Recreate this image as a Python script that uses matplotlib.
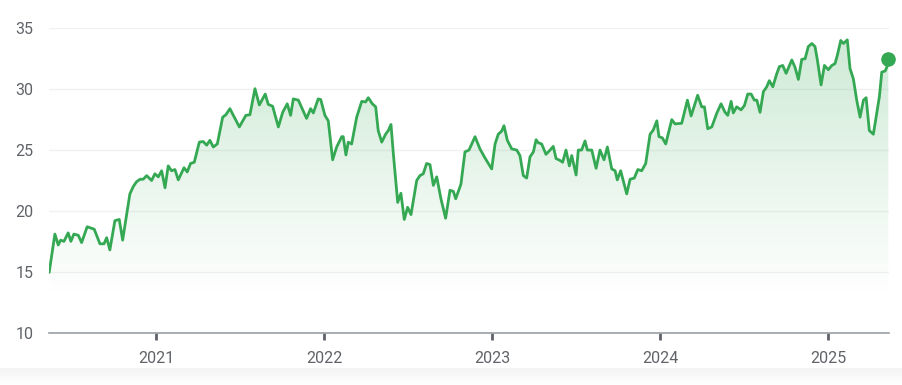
import numpy as np
import matplotlib
matplotlib.use("Agg")
import matplotlib.pyplot as plt
from matplotlib.patches import Polygon
from matplotlib.colors import LinearSegmentedColormap

# ---- data (decimal year, price) ----
dates = [
    2020.365, 2020.399, 2020.419, 2020.433, 2020.453, 2020.478, 2020.494, 2020.512, 2020.538, 2020.558,
    2020.591, 2020.633, 2020.667, 2020.691, 2020.707, 2020.726, 2020.756, 2020.782, 2020.802, 2020.845,
    2020.865, 2020.885, 2020.905, 2020.924, 2020.945, 2020.974, 2020.994, 2021.014, 2021.034, 2021.054,
    2021.073, 2021.093, 2021.113, 2021.133, 2021.167, 2021.186, 2021.206, 2021.228, 2021.258, 2021.281,
    2021.302, 2021.321, 2021.341, 2021.365, 2021.397, 2021.416, 2021.440, 2021.470, 2021.496, 2021.535,
    2021.559, 2021.589, 2021.615, 2021.650, 2021.668, 2021.694, 2021.728, 2021.754, 2021.781, 2021.801,
    2021.817, 2021.847, 2021.896, 2021.920, 2021.936, 2021.965, 2021.980, 2022.005, 2022.025, 2022.051,
    2022.075, 2022.105, 2022.114, 2022.130, 2022.144, 2022.164, 2022.194, 2022.224, 2022.247, 2022.263,
    2022.287, 2022.307, 2022.322, 2022.343, 2022.366, 2022.382, 2022.398, 2022.412, 2022.438, 2022.457,
    2022.477, 2022.497, 2022.517, 2022.551, 2022.570, 2022.590, 2022.610, 2022.630, 2022.650, 2022.670,
    2022.695, 2022.723, 2022.749, 2022.769, 2022.783, 2022.814, 2022.838, 2022.862, 2022.898, 2022.927,
    2022.955, 2022.997, 2023.017, 2023.036, 2023.056, 2023.070, 2023.090, 2023.116, 2023.146, 2023.165,
    2023.185, 2023.205, 2023.225, 2023.245, 2023.261, 2023.274, 2023.294, 2023.320, 2023.344, 2023.363,
    2023.380, 2023.403, 2023.419, 2023.439, 2023.459, 2023.473, 2023.499, 2023.512, 2023.532, 2023.552,
    2023.566, 2023.592, 2023.618, 2023.641, 2023.665, 2023.685, 2023.711, 2023.731, 2023.744, 2023.764,
    2023.800, 2023.820, 2023.845, 2023.866, 2023.889, 2023.913, 2023.939, 2023.958, 2023.979, 2023.992,
    2024.012, 2024.032, 2024.068, 2024.087, 2024.127, 2024.161, 2024.183, 2024.222, 2024.246, 2024.262,
    2024.282, 2024.306, 2024.335, 2024.361, 2024.385, 2024.401, 2024.421, 2024.434, 2024.454, 2024.480,
    2024.500, 2024.520, 2024.540, 2024.559, 2024.574, 2024.593, 2024.613, 2024.633, 2024.648, 2024.669,
    2024.692, 2024.708, 2024.728, 2024.748, 2024.782, 2024.801, 2024.821, 2024.841, 2024.861, 2024.880,
    2024.901, 2024.920, 2024.934, 2024.956, 2024.976, 2024.999, 2025.020, 2025.039, 2025.053, 2025.073,
    2025.089, 2025.112, 2025.128, 2025.148, 2025.168, 2025.188, 2025.208, 2025.224, 2025.243, 2025.267,
    2025.287, 2025.303, 2025.317, 2025.337, 2025.347, 2025.356,
]
prices = [
    14.95, 18.1, 17.2, 17.6, 17.5, 18.2, 17.5, 18.1, 18.0, 17.4,
    18.7, 18.5, 17.3, 17.3, 17.8, 16.8, 19.2, 19.3, 17.6, 21.4,
    22.0, 22.4, 22.6, 22.6, 22.9, 22.5, 23.05, 22.8, 23.3, 21.9,
    23.7, 23.3, 23.4, 22.55, 23.55, 23.2, 23.9, 24.0, 25.65, 25.7,
    25.4, 25.8, 25.25, 25.5, 27.7, 27.9, 28.4, 27.6, 26.9, 27.85,
    27.9, 30.04, 28.7, 29.6, 28.75, 28.6, 26.9, 28.1, 28.8, 27.85,
    29.2, 29.1, 27.6, 28.4, 28.05, 29.2, 29.15, 27.85, 27.4, 24.2,
    25.25, 26.1, 26.1, 24.6, 25.65, 25.5, 27.7, 29.0, 28.95, 29.3,
    28.8, 28.55, 26.6, 25.65, 26.3, 26.6, 27.1, 24.7, 20.7, 21.45,
    19.3, 20.3, 19.7, 22.5, 22.9, 23.05, 23.9, 23.8, 22.1, 22.8,
    21.0, 19.4, 21.7, 21.6, 21.0, 22.2, 24.85, 25.0, 26.1, 25.1,
    24.4, 23.45, 25.5, 26.3, 26.55, 27.0, 25.8, 25.1, 25.0, 24.55,
    22.9, 22.7, 24.45, 24.85, 25.85, 25.6, 25.5, 24.65, 25.0, 25.3,
    24.3, 24.15, 24.0, 25.0, 23.7, 24.55, 22.95, 25.0, 25.0, 25.75,
    25.0, 25.0, 23.5, 25.0, 24.2, 25.25, 23.45, 23.3, 22.55, 23.3,
    21.4, 22.6, 22.7, 23.4, 23.3, 23.9, 26.3, 26.65, 27.4, 26.1,
    26.0, 25.5, 27.5, 27.15, 27.2, 29.1, 27.8, 29.5, 28.55, 28.55,
    26.75, 26.9, 28.0, 28.8, 28.1, 27.85, 29.0, 28.05, 28.55, 28.3,
    28.65, 29.6, 29.6, 29.1, 29.1, 28.1, 29.8, 30.2, 30.7, 30.2,
    31.25, 31.85, 31.95, 31.3, 32.4, 31.8, 30.8, 32.45, 32.5, 33.5,
    33.75, 33.5, 32.4, 30.35, 31.95, 31.6, 31.95, 32.1, 32.8, 34.0,
    33.75, 34.05, 31.7, 30.85, 29.1, 27.7, 29.1, 29.3, 26.6, 26.3,
    28.0, 29.4, 31.4, 31.5, 31.8, 32.5,
]
year_ticks = [2021, 2022, 2023, 2024, 2025]
year_labels = ["2021", "2022", "2023", "2024", "2025"]
y_ticks = [10, 15, 20, 25, 30, 35]
y_labels = ["10", "15", "20", "25", "30", "35"]

GREEN = "#34a853"
GREY_TXT = "#5f6368"

plt.rcParams["font.family"] = ["Roboto", "DejaVu Sans"]

W, H = 903, 385
fig = plt.figure(figsize=(W / 100, H / 100), dpi=100)
fig.patch.set_facecolor("white")

# light grey strip (soft gradient) at the bottom of the page
bg = fig.add_axes([0, 0, 1, 17 / H], zorder=-5)
bg.imshow(np.linspace(1, 0, 64).reshape(-1, 1), origin="upper", aspect="auto",
          cmap=LinearSegmentedColormap.from_list("bgs", ["#ffffff", "#f4f4f5"]),
          extent=[0, 1, 0, 1], vmin=0, vmax=1)
bg.set_axis_off()

ax = fig.add_axes([49 / W, (H - 332.7) / H, (889 - 49) / W, (332.7 - 28.3) / H])
ax.set_xlim(2020.364, 2025.36)
ax.set_ylim(10, 35)
ax.patch.set_alpha(0)

x = np.array(dates)
y = np.array(prices)

# gradient fill under the line
cmap = LinearSegmentedColormap.from_list(
    "g", [(0.0, (0.204, 0.659, 0.325, 0.0)), (1.0, (0.204, 0.659, 0.325, 0.24))])
grad = np.linspace(0, 1, 256).reshape(-1, 1)
grad = np.clip((grad - 0.12) / 0.88, 0, 1)
img = ax.imshow(grad, extent=[x.min(), x.max(), 10, 34.2], origin="lower",
                aspect="auto", cmap=cmap, vmin=0, vmax=1, zorder=1)
verts = np.vstack([np.column_stack([x, y]), [[x[-1], 10], [x[0], 10]]])
poly = Polygon(verts, closed=True, facecolor="none", edgecolor="none")
ax.add_patch(poly)
img.set_clip_path(poly)

ax.plot(x, y, color=GREEN, lw=2.0, solid_joinstyle="round", solid_capstyle="round", zorder=3)
ax.plot([x[-1]], [y[-1]], "o", color=GREEN, ms=9.5, zorder=4, clip_on=False)

# grid
for v in y_ticks[1:]:
    ax.axhline(v, color="#f1f1f1", lw=1.0, zorder=0.5)

for s in ["top", "right", "left"]:
    ax.spines[s].set_visible(False)
ax.spines["bottom"].set_color("#9aa0a6")
ax.spines["bottom"].set_linewidth(1.2)

ax.set_yticks(y_ticks)
ax.set_yticklabels(y_labels)
ax.set_xticks(year_ticks)
ax.set_xticklabels(year_labels)
ax.tick_params(axis="y", length=0, pad=11, labelsize=11.5, labelcolor=GREY_TXT)
ax.tick_params(axis="x", length=5, width=2, color="#5f6368", pad=8,
               labelsize=11.5, labelcolor=GREY_TXT, direction="out")

fig.savefig("out.png", dpi=100)
